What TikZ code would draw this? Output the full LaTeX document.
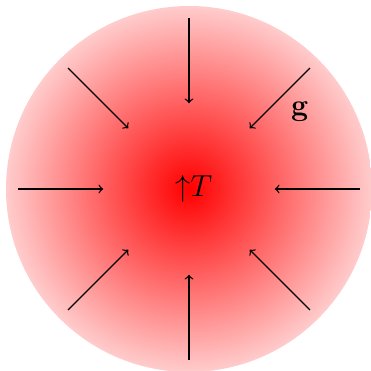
\documentclass[tikz,border=0pt]{standalone}
\usepackage{tikz}
\tikzset{
  gball/.style={inner color=red, outer color=red!20},
  garrow/.style={->, line width=0.6pt},
  glabel/.style={font=\Large}
}

\begin{document}
\begin{tikzpicture}[>=to]
      \useasboundingbox (-3.15,-3.017) rectangle (3.033,3.15);
      \shade[gball] (0,0) circle (3.05);
      \foreach \a in {0,45,...,315} {
        \coordinate (s\a) at (\a:2.85);
        \coordinate (e\a) at (\a:1.43);
        \draw[garrow] (s\a) -- (e\a);
      }
      \node[glabel] (temp) at (0.08,0) {${\uparrow}T$};
      \node[glabel] (grav) at (1.85,1.28) {$\mathbf{g}$};
    \end{tikzpicture}
\end{document}
